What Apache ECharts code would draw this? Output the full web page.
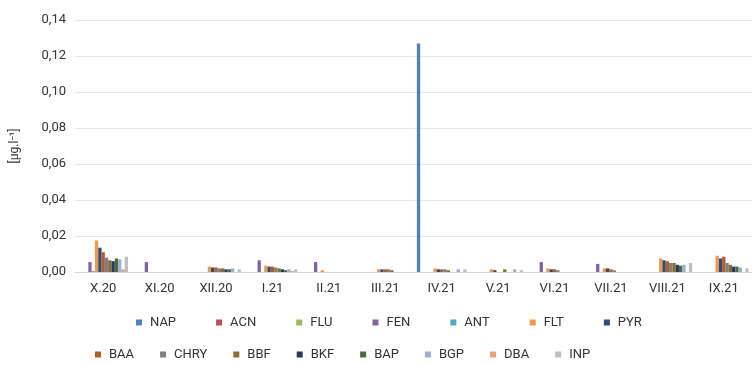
<!DOCTYPE html>
<html>
<head>
<meta charset="utf-8">
<script src="https://cdn.jsdelivr.net/npm/echarts@6/dist/echarts.min.js"></script>
<style>
  html, body { margin: 0; padding: 0; background: #fff; }
  #chart { width: 752px; height: 365px; }
</style>
</head>
<body>
<div id="chart"></div>
<script>
// Monthly sampling periods
const months = ['X.20', 'XI.20', 'XII.20', 'I.21', 'II.21', 'III.21', 'IV.21', 'V.21', 'VI.21', 'VII.21', 'VIII.21', 'IX.21'];

// Concentrations per compound, µg/l, one value per month
const NAP  = [0,      0,      0,      0,      0,      0,      0.127,  0,      0,      0,      0,      0];
const ACN  = [0,      0,      0,      0,      0,      0,      0,      0,      0,      0,      0,      0];
const FLU  = [0,      0,      0,      0,      0,      0,      0,      0,      0,      0,      0,      0];
const FEN  = [0.0055, 0.0055, 0,      0.0065, 0.0055, 0,      0,      0,      0.0055, 0.0045, 0,      0];
const ANT  = [0.0005, 0,      0,      0,      0,      0,      0,      0,      0,      0,      0,      0];
const FLT  = [0.0175, 0,      0.003,  0.0035, 0.001,  0.0015, 0.002,  0.0015, 0.002,  0.002,  0.0075, 0.009];
const PYR  = [0.0135, 0,      0.0025, 0.003,  0,      0.0015, 0.0015, 0.001,  0.0015, 0.002,  0.0065, 0.0075];
const BAA  = [0.011,  0,      0.0025, 0.003,  0,      0.0015, 0.0015, 0,      0.0015, 0.0015, 0.006,  0.0085];
const CHRY = [0.008,  0,      0.002,  0.0025, 0,      0.0015, 0.0015, 0,      0.001,  0.001,  0.005,  0.005];
const BBF  = [0.0065, 0,      0.002,  0.002,  0,      0.001,  0.001,  0.0015, 0,      0,      0.005,  0.004];
const BKF  = [0.006,  0,      0.0015, 0.0015, 0,      0,      0,      0,      0,      0,      0.004,  0.003];
const BAP  = [0.0075, 0,      0.0015, 0.001,  0,      0,      0,      0,      0,      0,      0.0035, 0.003];
const BGP  = [0.007,  0,      0.002,  0.0015, 0,      0,      0.0015, 0.0015, 0,      0,      0.004,  0.0025];
const DBA  = [0.0015, 0,      0,      0.0005, 0,      0,      0,      0,      0,      0,      0,      0];
const INP  = [0.0085, 0,      0.0015, 0.0015, 0,      0,      0.0015, 0.001,  0,      0,      0.005,  0.002];

// Y axis ticks
const yTicks = [0, 0.02, 0.04, 0.06, 0.08, 0.10, 0.12, 0.14];

const compounds = [
  ['NAP', NAP, '#4f81bd'], ['ACN', ACN, '#c0504d'], ['FLU', FLU, '#9bbb59'],
  ['FEN', FEN, '#8064a2'], ['ANT', ANT, '#4bacc6'], ['FLT', FLT, '#f79646'],
  ['PYR', PYR, '#2c4d75'], ['BAA', BAA, '#b45d2b'], ['CHRY', CHRY, '#7f7f7f'],
  ['BBF', BBF, '#8c6d2c'], ['BKF', BKF, '#253a6b'], ['BAP', BAP, '#4e6b35'],
  ['BGP', BGP, '#95b3d7'], ['DBA', DBA, '#e6a376'], ['INP', INP, '#bfbfbf']
];

const FONT = 'Roboto';
const TXT = '#333333';

const legendCommon = {
  orient: 'horizontal',
  icon: 'rect',
  itemWidth: 6,
  itemHeight: 6,
  textStyle: { fontFamily: FONT, fontSize: 13, color: TXT, padding: [0, 0, 0, 3] }
};

const chart = echarts.init(document.getElementById('chart'), null, { renderer: 'canvas' });
chart.setOption({
  animation: false,
  color: compounds.map(c => c[2]),
  grid: { left: 75, top: 20, width: 684, bottom: 93, containLabel: false },
  legend: [
    Object.assign({}, legendCommon, {
      left: 131, top: 311, itemGap: 40,
      data: compounds.slice(0, 7).map(c => c[0])
    }),
    Object.assign({}, legendCommon, {
      left: 90, top: 343, itemGap: 26,
      data: compounds.slice(7).map(c => c[0])
    })
  ],
  xAxis: {
    type: 'category',
    data: months,
    axisLine: { show: true, lineStyle: { color: '#d9d9d9', width: 1 } },
    axisTick: { show: false },
    axisLabel: { fontFamily: FONT, fontSize: 13, color: TXT, margin: 10 }
  },
  yAxis: {
    type: 'value',
    min: yTicks[0],
    max: yTicks[yTicks.length - 1],
    interval: 0.02,
    name: '[µg.l⁻¹]',
    nameLocation: 'middle',
    nameRotate: 90,
    nameGap: 54,
    nameTextStyle: { fontFamily: FONT, fontSize: 12, color: TXT },
    axisLine: { show: false },
    axisTick: { show: false },
    splitLine: { lineStyle: { color: '#e8e8e8', width: 1 } },
    axisLabel: {
      fontFamily: FONT, fontSize: 13, color: TXT, margin: 9,
      formatter: v => v.toFixed(2).replace('.', ',')
    }
  },
  series: compounds.map(c => ({
    name: c[0],
    type: 'bar',
    data: c[1],
    barGap: '0%',
    barCategoryGap: '12%',
    itemStyle: { color: c[2] }
  }))
});
</script>
</body>
</html>
